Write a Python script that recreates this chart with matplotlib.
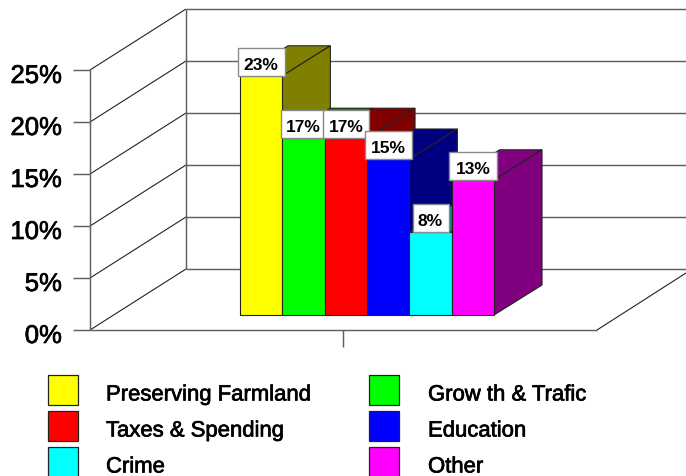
import matplotlib
matplotlib.use('Agg')
import matplotlib.pyplot as plt
import matplotlib.patheffects as pe
from matplotlib.patches import Polygon, Rectangle

categories = ['Preserving Farmland', 'Grow th & Trafic', 'Taxes & Spending',
              'Education', 'Crime', 'Other']
values = [23, 17, 17, 15, 8, 13]
front_colors = ['#ffff00', '#00ff00', '#ff0000', '#0000ff', '#00ffff', '#ff00ff']
dark_colors = ['#808000', '#008000', '#800000', '#000080', '#008080', '#800080']
label_widths = [47, 46, 46, 47, 36, 48]
y_ticks = [0, 5, 10, 15, 20, 25]

W, H = 686, 477
PX_PER_PCT = 10.4
SLOT = 42.33
X0 = 261.2     # centre of first bar, px
FLOOR = 316    # bar base, px


def xd(px):
    return (px - X0) / SLOT


def yd(py):
    return (FLOOR - py) / PX_PER_PCT


plt.rcParams['font.family'] = ['Liberation Sans', 'DejaVu Sans']

fig = plt.figure(figsize=(W / 100, H / 100), dpi=100)
ax = fig.add_axes([0, 0, 1, 1])
ax.set_xlim(xd(0), xd(W))
ax.set_ylim(yd(H), yd(0))
ax.axis('off')

grey = '#606060'
heavy = [pe.withStroke(linewidth=0.5, foreground='black')]


def line(xs, ys, color=grey, lw=1.05, z=1):
    ax.plot([xd(x) for x in xs], [yd(y) for y in ys], color=color, lw=lw,
            solid_capstyle='butt', zorder=z)


# walls and floor
front_x, back_x = 90, 186
wall_dy = 61
zero_y = 331
for v in y_ticks:
    y = zero_y - v * PX_PER_PCT
    line([73, front_x], [y, y])
    line([front_x, back_x], [y, y - wall_dy], color='#222222', lw=0.8)
    line([back_x, W], [y - wall_dy, y - wall_dy])
    ax.text(xd(62), yd(y + 6), '%d%%' % v, ha='right', va='center',
            fontsize=18.5, color='black', path_effects=heavy)
line([front_x, front_x], [zero_y, zero_y - 25 * PX_PER_PCT])
line([back_x, back_x], [zero_y - wall_dy, zero_y - wall_dy - 25 * PX_PER_PCT])
line([front_x, 597], [zero_y, zero_y])
line([597, W], [zero_y, zero_y - 57], color='#222222', lw=0.8)
line([343, 343], [zero_y, 348])

# bars, painted left to right so each front hides the previous side
depth_x = 48 / SLOT
depth_y = 30 / PX_PER_PCT
edge = '#222222'
for i, v in enumerate(values):
    z = 3 + i
    left, right = i - 0.5, i + 0.5
    top_face = [(left, v), (right, v), (right + depth_x, v + depth_y), (left + depth_x, v + depth_y)]
    side_face = [(right, 0), (right + depth_x, depth_y), (right + depth_x, v + depth_y), (right, v)]
    ax.add_patch(Polygon(top_face, fc=dark_colors[i], ec=edge, lw=0.8, zorder=z))
    ax.add_patch(Polygon(side_face, fc=dark_colors[i], ec=edge, lw=0.8, zorder=z))
    ax.bar(i, v, width=1.0, color=front_colors[i], edgecolor=edge, linewidth=0.8, zorder=z + 0.1)

# value labels go above every bar
for i, v in enumerate(values):
    bw = label_widths[i] / SLOT
    bh = 28 / PX_PER_PCT
    ax.add_patch(Rectangle((i - bw / 2, v), bw, bh, fc='white', ec='#8a8a8a', lw=1.0, zorder=20 + i))
    ax.text(i, v + bh / 2 - 0.25, '%d%%' % v, ha='center', va='center', fontsize=12.5,
            fontweight='bold', color='black', zorder=20.5 + i)

# legend
col_x = [48, 369]
text_x = [106, 428]
row_y = [376, 412, 448]
for i, name in enumerate(categories):
    col, row = i % 2, i // 2
    px, py = col_x[col], row_y[row]
    ax.add_patch(Rectangle((xd(px), yd(py + 30)), 30 / SLOT, 30 / PX_PER_PCT,
                           fc=front_colors[i], ec=edge, lw=0.9, zorder=3))
    ax.text(xd(text_x[col]), yd(py + 20), name, ha='left', va='center',
            fontsize=15.9, color='black', path_effects=heavy)

fig.savefig('out.png', dpi=100)
